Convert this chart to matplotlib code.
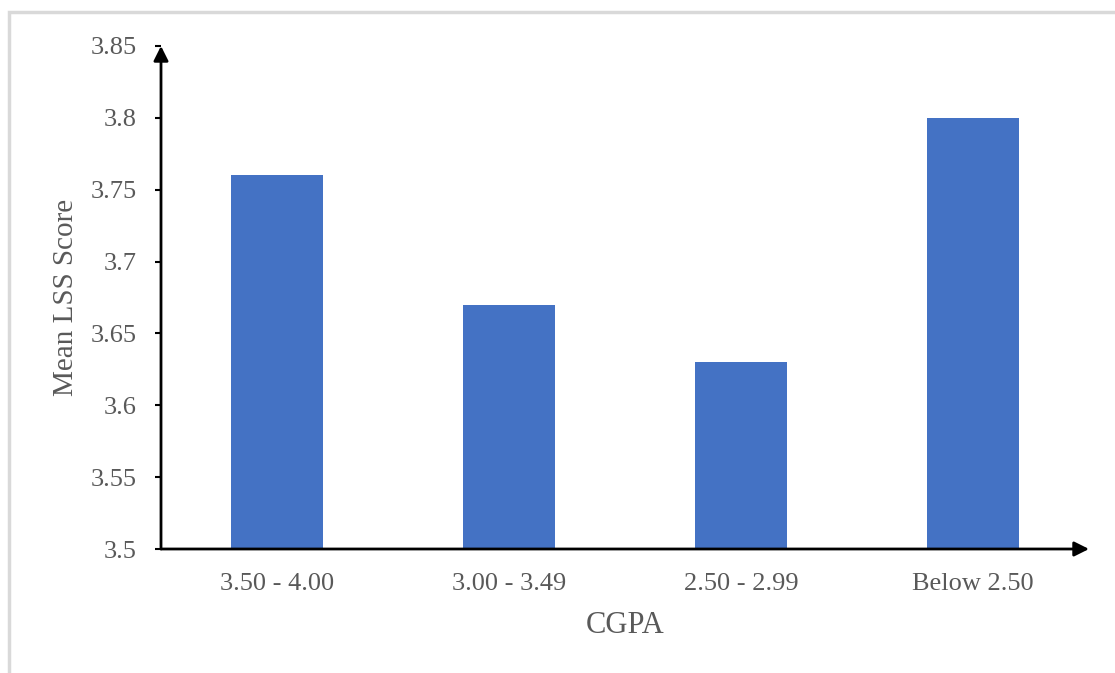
import matplotlib
matplotlib.use('Agg')
import matplotlib.pyplot as plt
from matplotlib.patches import Rectangle

# Mean LSS score by CGPA band
categories = ['3.50 - 4.00', '3.00 - 3.49', '2.50 - 2.99', 'Below 2.50']
mean_lss = [3.76, 3.67, 3.63, 3.80]
yticks = [3.5, 3.55, 3.6, 3.65, 3.7, 3.75, 3.8, 3.85]
ytick_labels = ['3.5', '3.55', '3.6', '3.65', '3.7', '3.75', '3.8', '3.85']

plt.rcParams['font.family'] = ['Liberation Serif', 'DejaVu Serif']

W, H = 1115, 673
fig = plt.figure(figsize=(W / 100, H / 100), dpi=100)
ax = fig.add_axes([161 / W, (H - 549) / H, (1089 - 161) / W, (549 - 46) / H])

x = range(len(categories))
ax.bar(x, mean_lss, width=0.4, color='#4472C4')

ax.set_xlim(-0.5, 3.5)
ax.set_ylim(3.5, 3.85)
ax.set_xticks(list(x))
ax.set_xticklabels(categories)
ax.set_yticks(yticks)
ax.set_yticklabels(ytick_labels)

gray = '#595959'
ax.tick_params(axis='x', length=0, pad=17, labelsize=19, labelcolor=gray)
ax.tick_params(axis='y', length=4.5, width=1.5, direction='out', pad=13,
               labelsize=19, labelcolor=gray, color='black')

for side in ['top', 'right', 'left', 'bottom']:
    ax.spines[side].set_visible(False)

# axis lines with arrowheads
ax.annotate('', xy=(1.0, 0), xytext=(0, 0), xycoords='axes fraction',
            arrowprops=dict(arrowstyle='-|>', color='black', lw=2,
                            mutation_scale=22, shrinkA=0, shrinkB=0))
ax.annotate('', xy=(0, 1.0), xytext=(0, 0), xycoords='axes fraction',
            arrowprops=dict(arrowstyle='-|>', color='black', lw=2,
                            mutation_scale=22, shrinkA=0, shrinkB=0))

ax.set_xlabel('CGPA', fontsize=22, color=gray, labelpad=12)
ax.set_ylabel('Mean LSS Score', fontsize=21, color=gray, labelpad=8)

# light frame round the chart area
fig.patches.append(Rectangle((9 / W, -0.1), 1.2, (H - 12) / H + 0.1,
                             transform=fig.transFigure, fill=False,
                             edgecolor='#D9D9D9', lw=2.5))

fig.savefig('out.png', dpi=100, facecolor='white')
